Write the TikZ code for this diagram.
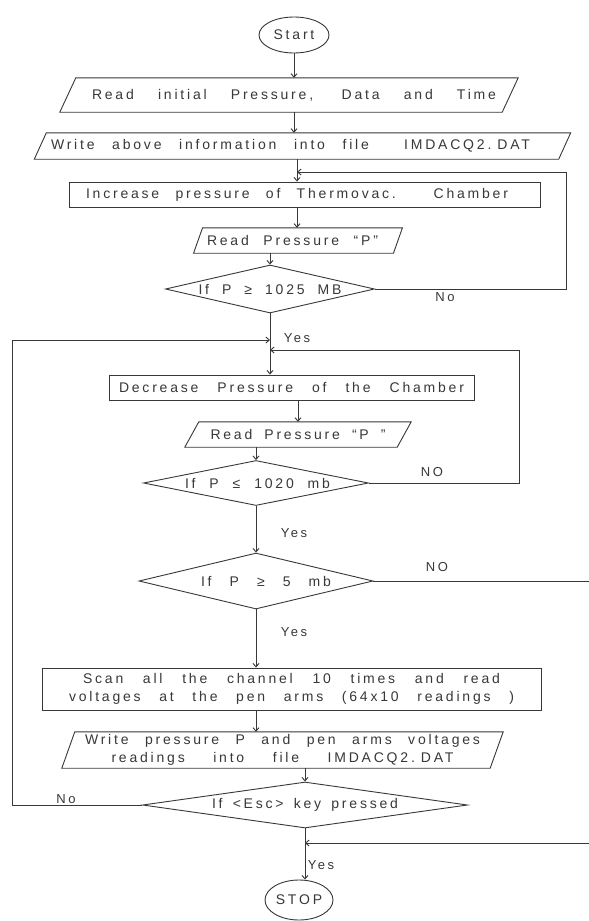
\documentclass[tikz,border=0pt]{standalone}
\usepackage{fontspec}
\setmainfont{Liberation Sans}
\newfontfamily\lett[LetterSpace=20]{Liberation Sans}
\usetikzlibrary{shapes.geometric,arrows.meta}
\definecolor{inkc}{gray}{0.22}
\newcommand\T[2]{\makebox[#1pt][s]{#2}}
\newcommand\drawpara[2]{\draw[ink] ([xshift=#2pt]#1.north west) -- ([xshift=#2pt]#1.north east) -- ([xshift=-#2pt]#1.south east) -- ([xshift=-#2pt]#1.south west) -- cycle;}
\begin{document}
\begin{tikzpicture}[x=1pt,y=-1pt,
  ink/.style={draw=inkc, line width=0.9pt},
  txt/.style={font=\lett\fontsize{14}{18}\selectfont, text=inkc, inner sep=0pt},
  box/.style={txt, ink, rectangle},
  para/.style={txt, rectangle, draw=none},
  dia/.style={txt, ink, diamond},
  term/.style={txt, ink, ellipse},
  lab/.style={font=\lett\fontsize{13}{15}\selectfont, text=inkc, inner sep=0pt},
  arr/.style={ink, -{Straight Barb[length=3.5pt,width=6pt]}}
]
\fill[white] (0,0) rectangle (589,921);
\useasboundingbox (0,0) rectangle (589,921);

% nodes
\node[term, minimum width=70pt, minimum height=36pt] (start) at (294,35) {Start};
\node[para, minimum width=442pt, minimum height=34pt] (read) at (289,95) {\hspace*{10pt}\T{404}{Read initial Pressure, Data and Time}};
\node[para, minimum width=524pt, minimum height=26pt] (write) at (302.5,146) {\T{479}{Write above information into file \ IMDACQ2.\hspace{6pt}DAT}\hspace*{24pt}};
\node[box, minimum width=471pt, minimum height=25pt] (inc) at (304.5,194.5) {\T{422}{Increase pressure of Thermovac. Chamber}\hspace*{15pt}};
\node[para, minimum width=199.5pt, minimum height=25pt] (rp1) at (298,240.5) {\T{171}{Read Pressure “P”}\hspace*{11pt}};
\node[dia, minimum width=209pt, minimum height=48pt] (d1) at (270,289) {\makebox[0pt]{\T{143}{If P ≥ 1025 MB}}};
\node[box, minimum width=365pt, minimum height=25pt] (dec) at (291.5,387.5) {\T{345}{Decrease Pressure of the Chamber}};
\node[para, minimum width=212pt, minimum height=25pt] (rp2) at (298,434.5) {\T{175}{Read Pressure “P ”}};
\node[dia, minimum width=225pt, minimum height=45pt] (d2) at (256,483) {\makebox[0pt]{\hspace{3pt}\T{145}{If P ≤ 1020 mb}}};
\node[dia, minimum width=234pt, minimum height=56pt] (d5) at (256,581) {\makebox[0pt]{\hspace{20pt}\T{130}{If P ≥ 5 mb}}};
\node[box, minimum width=499pt, minimum height=42pt, align=center] (scan) at (291.5,689) {\T{417}{Scan all the channel 10 times and read}\\\T{445}{voltages at the pen arms (64x10 readings )}};
\node[para, minimum width=428pt, minimum height=36pt, align=center] (wp) at (282.5,750) {\T{395}{Write pressure P and pen arms voltages}\\\T{342}{readings into file IMDACQ2.\hspace{6pt}DAT}};
\node[dia, minimum width=325pt, minimum height=46pt] (esc) at (305,805) {\makebox[0pt]{\T{186}{If <Esc> key pressed}}};
\node[term, minimum width=68pt, minimum height=40pt] (stop) at (299,900) {STOP};

% parallelogram outlines
\drawpara{read}{8}
\drawpara{write}{6}
\drawpara{rp1}{4.5}
\drawpara{rp2}{7}
\drawpara{wp}{6.5}

% reference axis and free ends
\coordinate (ax) at (297,0);
\coordinate (c1) at (566,172);
\coordinate (c2) at (519,350);
\coordinate (c3) at (589,581);
\coordinate (c4) at (12,340);
\coordinate (c5) at (589,843);

% connectors
\draw[arr] (start.south) -- (start.south |- read.north);
\draw[arr] (read.south -| start.south) -- (write.north -| start.south);
\draw[arr] (write.south -| ax) -- (inc.north -| ax);
\draw[arr] (d1.east) -| (c1) -- (c1 -| ax);
\draw[arr] (inc.south -| ax) -- (rp1.north -| ax);
\draw[arr] (rp1.south -| d1.north) -- (d1.north);
\draw[arr] (d1.south) -- (d1.south |- dec.north);
\draw[arr] (rp2.north |- dec.south) -- (rp2.north);
\draw[arr] (rp2.south -| d2.north) -- (d2.north);
\draw[arr] (d2.east) -| (c2) -- (c2 -| d1.south);
\draw[arr] (d2.south) -- (d2.south |- d5.north);
\draw[ink] (d5.east) -- (c3);
\draw[arr] (d5.south) -- (d5.south |- scan.north);
\draw[arr] (scan.south -| d5.south) -- (wp.north -| d5.south);
\draw[arr] (wp.south -| esc.north) -- (esc.north);
\draw[arr] (esc.west) -| (c4) -- (c4 -| d1.south);
\draw[arr] (esc.south) -- (esc.south |- stop.north);
\draw[arr] (c5) -- (c5 -| esc.south);

% labels
\node[lab] (no1) at (445,297) {No};
\node[lab] (yes1) at (297,338) {Yes};
\node[lab] (no2) at (432,472) {NO};
\node[lab] (yes2) at (294,533) {Yes};
\node[lab] (no3) at (437,567) {NO};
\node[lab] (yes3) at (294,632) {Yes};
\node[lab] (no4) at (66,799) {No};
\node[lab] (yes4) at (321,865) {Yes};
\end{tikzpicture}
\end{document}
